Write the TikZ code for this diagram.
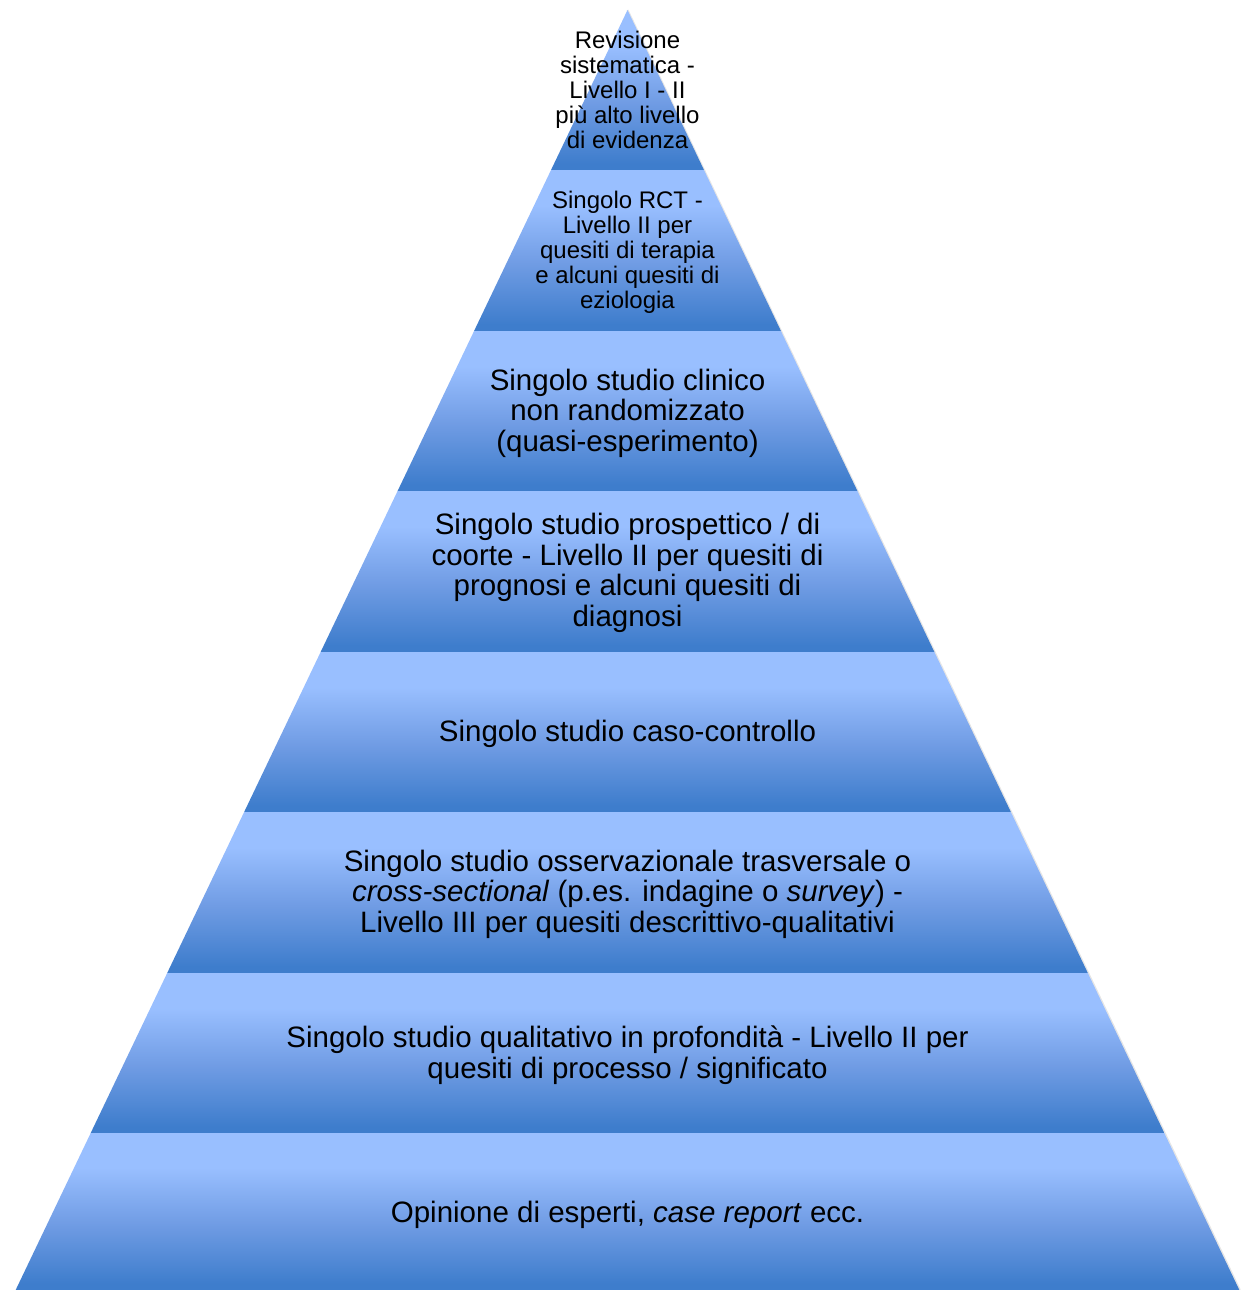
\documentclass[tikz,border=0pt]{standalone}
\usepackage{fontspec}
\setmainfont{Liberation Sans}
\definecolor{tierlight}{RGB}{153,191,255}
\definecolor{tiermid}{RGB}{112,156,228}
\definecolor{tierdark}{RGB}{62,125,204}
% vertical shading: 25bp = bottom of the path, 75bp = top of the path
\pgfdeclareverticalshading{tiershade}{100bp}{color(0bp)=(tierdark); color(27bp)=(tierdark); color(46bp)=(tiermid); color(64bp)=(tierlight); color(100bp)=(tierlight)}
\begin{document}
\begin{tikzpicture}[x=1pt,y=-1pt,
  tier/.style={shading=tiershade},
  edgeshadow/.style={draw=black!40,line width=2pt,opacity=0.25},
  small/.style={align=center,font=\fontsize{24}{25}\selectfont,inner sep=0pt},
  big/.style={align=center,font=\fontsize{29.5}{30.5}\selectfont,inner sep=0pt}]
\useasboundingbox (0,0) rectangle (1252,1290);
% faint shadow along the right flank, half hidden by the tiers
\draw[edgeshadow] (627.5,10) -- (1239.8,1290);
% the eight tiers of the pyramid
\foreach \t/\b in {10/170,170/331,331/491,491/652,652/812,812/973,973/1133,1133/1290}{
  \pgfmathsetmacro\wt{0.478*(\t-10)}
  \pgfmathsetmacro\wb{0.478*(\b-10)}
  \shade[tier] (627.5-\wt,\t) -- (627.5+\wt,\t) -- (627.5+\wb,\b) -- (627.5-\wb,\b) -- cycle;
}
% labels
\node[small] (l1) at (627.5,90) {Revisione\\sistematica -\\Livello I - II\\più alto livello\\di evidenza};
\node[small] (l2) at (627.5,252) {Singolo RCT -\\Livello II per\\quesiti di terapia\\e alcuni quesiti di\\eziologia};
\node[big] (l3) at (627.5,413) {Singolo studio clinico\\non randomizzato\\(quasi-esperimento)};
\node[big] (l4) at (627.5,573) {Singolo studio prospettico / di\\coorte - Livello II per quesiti di\\prognosi e alcuni quesiti di\\diagnosi};
\node[big] (l5) at (627.5,734) {Singolo studio caso-controllo};
\node[big] (l6) at (627.5,894) {Singolo studio osservazionale trasversale o\\\textit{cross-sectional} (p.es. indagine o \textit{survey}) -\\Livello III per quesiti descrittivo-qualitativi};
\node[big] (l7) at (627.5,1055) {Singolo studio qualitativo in profondità - Livello II per\\quesiti di processo / significato};
\node[big] (l8) at (627.5,1215) {Opinione di esperti, \textit{case report} ecc.};
\end{tikzpicture}
\end{document}
